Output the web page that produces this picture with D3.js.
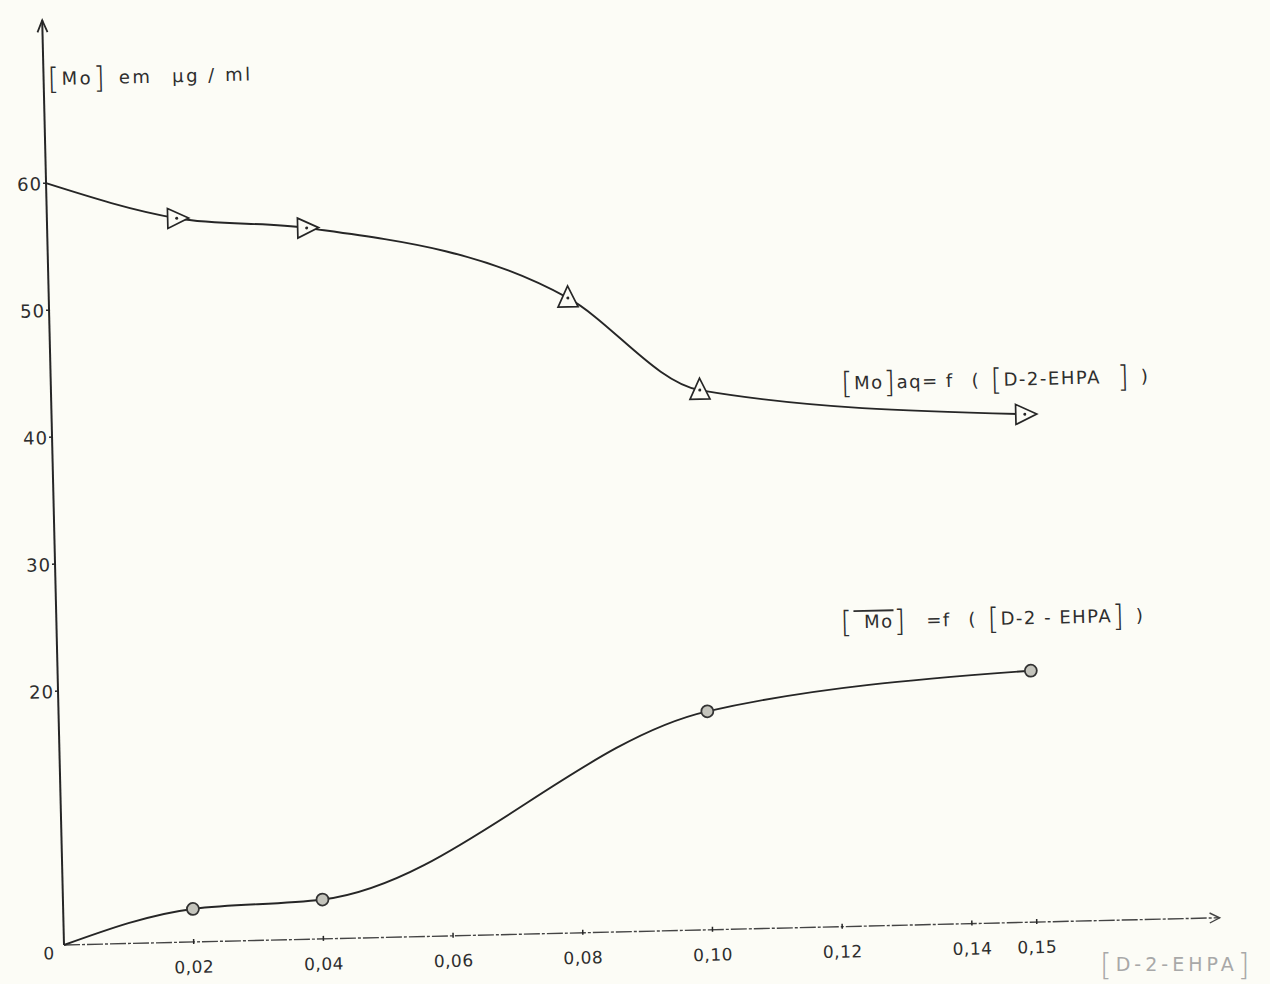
<!DOCTYPE html>
<html>
<head>
<meta charset="utf-8">
<script src="https://cdn.jsdelivr.net/npm/d3@7"></script>
<style>
  body { margin: 0; background: #fcfcf6; }
  svg { display: block; }
  text { font-family: "DejaVu Sans", "Noto Sans", sans-serif; fill: #2e2e2e; }
</style>
</head>
<body>
<svg id="chart"></svg>
<script>
const width = 1270;
const height = 984;

// aqueous phase [Mo] (triangles) and organic phase [Mo] (circles)
const aqX = [0, 0.02, 0.04, 0.08, 0.10, 0.15];
const aqY = [60, 57, 56, 50, 42.5, 40];
const orgX = [0, 0.02, 0.04, 0.10, 0.15];
const orgY = [0, 2.6, 3.1, 17.2, 19.8];

const xTicks = [0.02, 0.04, 0.06, 0.08, 0.10, 0.12, 0.14, 0.15];
const xTickLabels = ['0,02', '0,04', '0,06', '0,08', '0,10', '0,12', '0,14', '0,15'];
const yTicks = [20, 30, 40, 50, 60];

// the scanned sheet is a little tilted
const origin = { x: 64, y: 945 };
const tilt = -1.35;
const ink = '#262626';
// hand drawn triangles: some point right, some point up
const triAngle = [0, 0, 0, -90, -90, 0];

const x = d3.scaleLinear().domain([0, 0.15]).range([0, 973]);
const y = d3.scaleLinear().domain([0, 60]).range([0, -762]);

const svg = d3.select('#chart')
  .attr('width', width)
  .attr('height', height);

svg.append('rect')
  .attr('width', width)
  .attr('height', height)
  .attr('fill', '#fcfcf6');

const g = svg.append('g')
  .attr('transform', `translate(${origin.x},${origin.y}) rotate(${tilt})`);

// ===========================================================================
//      axes
// ===========================================================================
const yTop = -925;
const xEnd = 1156;

g.append('line')
  .attr('x1', 0).attr('y1', 0)
  .attr('x2', 0).attr('y2', yTop)
  .attr('stroke', ink)
  .attr('stroke-width', 2);
g.append('path')
  .attr('d', `M-5 ${yTop + 12} L0 ${yTop} L5 ${yTop + 12}`)
  .attr('fill', 'none')
  .attr('stroke', ink)
  .attr('stroke-width', 1.8);

g.append('line')
  .attr('x1', 0).attr('y1', 0)
  .attr('x2', xEnd).attr('y2', 0)
  .attr('stroke', '#444')
  .attr('stroke-width', 1.4)
  .attr('stroke-dasharray', '16 2 3 2');
g.append('path')
  .attr('d', `M${xEnd - 10} -5 L${xEnd} 0 L${xEnd - 10} 5`)
  .attr('fill', 'none')
  .attr('stroke', '#444')
  .attr('stroke-width', 1.4);

// x ticks
g.selectAll('.xtick')
  .data(xTicks)
  .enter()
  .append('line')
  .attr('class', 'xtick')
  .attr('x1', d => x(d)).attr('x2', d => x(d))
  .attr('y1', -3).attr('y2', 2)
  .attr('stroke', ink)
  .attr('stroke-width', 1.5);

g.selectAll('.xlabel')
  .data(xTicks)
  .enter()
  .append('text')
  .attr('class', 'xlabel')
  .attr('x', d => x(d))
  .attr('y', 31)
  .attr('text-anchor', 'middle')
  .attr('font-size', 17)
  .attr('letter-spacing', 0.5)
  .text((d, i) => xTickLabels[i]);

g.append('text')
  .attr('x', -10)
  .attr('y', 14)
  .attr('text-anchor', 'end')
  .attr('font-size', 17)
  .text('0');

// y ticks
g.selectAll('.ytick')
  .data(yTicks)
  .enter()
  .append('line')
  .attr('class', 'ytick')
  .attr('x1', -3).attr('x2', 1)
  .attr('y1', d => y(d)).attr('y2', d => y(d))
  .attr('stroke', ink)
  .attr('stroke-width', 1.5);

g.selectAll('.ylabel')
  .data(yTicks)
  .enter()
  .append('text')
  .attr('class', 'ylabel')
  .attr('x', -4)
  .attr('y', d => y(d) + 7)
  .attr('text-anchor', 'end')
  .attr('font-size', 18)
  .attr('letter-spacing', 1)
  .text(d => d);

// ===========================================================================
//      curves
// ===========================================================================
const line = d3.line()
  .x(d => x(d[0]))
  .y(d => y(d[1]))
  .curve(d3.curveMonotoneX);

const aqData = aqX.map((v, i) => [v, aqY[i]]);
const orgData = orgX.map((v, i) => [v, orgY[i]]);

g.append('path')
  .attr('d', line(aqData))
  .attr('fill', 'none')
  .attr('stroke', ink)
  .attr('stroke-width', 1.9);

g.append('path')
  .attr('d', line(orgData))
  .attr('fill', 'none')
  .attr('stroke', ink)
  .attr('stroke-width', 1.9);

// triangles
const tri = g.selectAll('.tri')
  .data(aqData.map((d, i) => ({ d, i })).filter(o => o.d[0] > 0))
  .enter()
  .append('g')
  .attr('class', 'tri')
  .attr('transform', o => `translate(${x(o.d[0])},${y(o.d[1])}) rotate(${triAngle[o.i]})`);
tri.append('path')
  .attr('d', 'M-9 -10 L12 0 L-9 10 Z')
  .attr('fill', '#fcfcf6')
  .attr('stroke', ink)
  .attr('stroke-width', 1.7);
tri.append('circle')
  .attr('r', 1.5)
  .attr('fill', ink);

// circles
g.selectAll('.dot')
  .data(orgData.filter(d => d[0] > 0))
  .enter()
  .append('circle')
  .attr('class', 'dot')
  .attr('cx', d => x(d[0]))
  .attr('cy', d => y(d[1]))
  .attr('r', 6)
  .attr('fill', '#c4c4bc')
  .attr('stroke', '#333')
  .attr('stroke-width', 1.8);

// ===========================================================================
//      labels
// ===========================================================================
function bracketText(parent, px, py, parts, size, spacing) {
  const t = parent.append('text')
    .attr('x', px)
    .attr('y', py)
    .attr('font-size', size)
    .attr('letter-spacing', spacing);
  let shift = 0;
  parts.forEach(p => {
    const target = p.big ? 4 : 0;
    t.append('tspan')
      .attr('font-size', p.big ? size * 1.65 : size)
      .attr('font-weight', p.big ? 200 : 'normal')
      .attr('text-decoration', p.over ? 'overline' : null)
      .attr('dy', target - shift)
      .text(p.t);
    shift = target;
  });
  return t;
}

bracketText(g, 4, -860, [
  { t: '[', big: true },
  { t: 'Mo' },
  { t: ']', big: true },
  { t: '\u2002em\u2002 \u00b5g / ml' },
], 18, 2.5);

bracketText(g, 790, -537, [
  { t: '[', big: true },
  { t: 'Mo' },
  { t: ']', big: true },
  { t: 'aq= f\u2002 (\u2002' },
  { t: '[', big: true },
  { t: 'D-2-EHPA' },
  { t: '\u2002]', big: true },
  { t: '\u2002)' },
], 18, 1.5);

bracketText(g, 784, -298, [
  { t: '[', big: true },
  { t: '\u2002Mo', over: true },
  { t: ']', big: true },
  { t: '\u2003=f\u2002 (\u2002' },
  { t: '[', big: true },
  { t: 'D-2 - EHPA' },
  { t: ']', big: true },
  { t: '\u2002)' },
], 18, 1.5);

const pencil = svg.append('text')
  .attr('x', 1100)
  .attr('y', 971)
  .attr('font-size', 19)
  .attr('letter-spacing', 4)
  .style('fill', '#a8a8a8');
pencil.append('tspan').attr('font-size', 30).attr('font-weight', 200).attr('dy', 4).style('fill', '#a8a8a8').text('[');
pencil.append('tspan').attr('dy', -4).style('fill', '#a8a8a8').text('D-2-EHPA');
pencil.append('tspan').attr('font-size', 30).attr('font-weight', 200).attr('dy', 4).style('fill', '#a8a8a8').text(']');
</script>
</body>
</html>
